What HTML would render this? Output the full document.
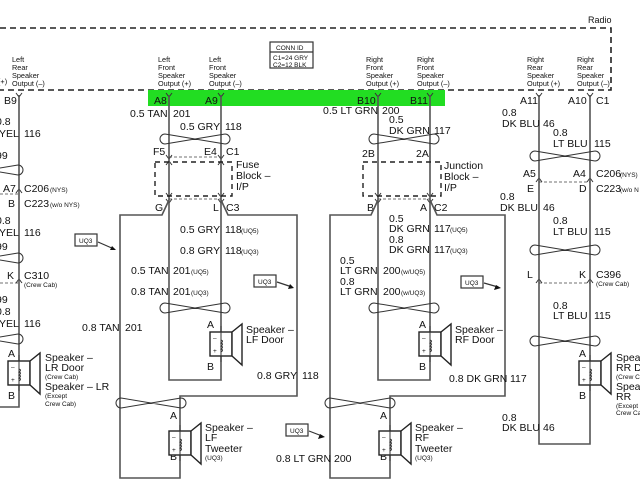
<!DOCTYPE html>
<html><head><meta charset="utf-8"><style>
html,body{margin:0;padding:0;background:#fff;width:640px;height:480px;overflow:hidden}
svg{display:block;font-family:"Liberation Sans",Arial,sans-serif}
.w{stroke:#555;stroke-width:1.6;fill:none}
.b{stroke:#333;stroke-width:1.2;fill:none}
.d{stroke:#222;stroke-width:1.6;fill:none;stroke-dasharray:6 4}
.dt{stroke:#444;stroke-width:0.8;fill:none;stroke-dasharray:3 2}
.c{stroke:#333;stroke-width:1;fill:none}
text{fill:#111;font-size:10.5px}
.s{font-size:6.5px}
.h{font-size:7.3px}
</style></head><body>
<svg width="640" height="480" viewBox="0 0 640 480" xmlns="http://www.w3.org/2000/svg">
<defs>
<g id="tw"><path d="M0,-5 L60,5 M0,5 L60,-5 M0,-5 A5,5 0 0 0 0,5 M60,-5 A5,5 0 0 1 60,5" stroke="#333" stroke-width="1" fill="none"/></g>
<g id="spk"><rect x="-11" y="0" width="22" height="24" stroke="#222" stroke-width="1.4" fill="#fff"/>
<polygon points="11,0 21,-8 21,33 11,24" stroke="#222" stroke-width="1.4" fill="#fff"/>
<path d="M0,-6 V30 M0,8 q3,1 0,3 q3,1 0,3 q3,1 0,3 q3,1 0,3" stroke="#333" stroke-width="1" fill="none"/>
<text x="-8" y="8" class="s">–</text><text x="-8" y="21" class="s">+</text></g>
<path id="yv" d="M-3,-3 L0,1 L3,-3" stroke="#333" stroke-width="1" fill="none"/>
<path id="up" d="M-3,3 L0,-1 L3,3" stroke="#333" stroke-width="1" fill="none"/>
</defs>
<!-- Radio box -->
<text x="588" y="23" style="font-size:9px">Radio</text>
<path class="d" d="M0,28 H611 V90 H0"/>
<rect x="148" y="90" width="297" height="16" fill="#22dd22"/>
<!-- conn id -->
<rect x="270" y="42" width="43" height="26" class="b"/>
<line x1="270" y1="52" x2="313" y2="52" class="b"/>
<text x="276" y="50" class="s">CONN ID</text>
<text x="273" y="60" class="s">C1=24 GRY</text>
<text x="273" y="67" class="s">C2=12 BLK</text>
<!-- header labels -->
<text x="-2" y="84" class="h">(+)</text>
<text x="12" y="62" class="h">Left</text><text x="12" y="70" class="h">Rear</text><text x="12" y="78" class="h">Speaker</text><text x="12" y="86" class="h">Output (–)</text>
<text x="158" y="62" class="h">Left</text><text x="158" y="70" class="h">Front</text><text x="158" y="78" class="h">Speaker</text><text x="158" y="86" class="h">Output (+)</text>
<text x="209" y="62" class="h">Left</text><text x="209" y="70" class="h">Front</text><text x="209" y="78" class="h">Speaker</text><text x="209" y="86" class="h">Output (–)</text>
<text x="366" y="62" class="h">Right</text><text x="366" y="70" class="h">Front</text><text x="366" y="78" class="h">Speaker</text><text x="366" y="86" class="h">Output (+)</text>
<text x="417" y="62" class="h">Right</text><text x="417" y="70" class="h">Front</text><text x="417" y="78" class="h">Speaker</text><text x="417" y="86" class="h">Output (–)</text>
<text x="527" y="62" class="h">Right</text><text x="527" y="70" class="h">Rear</text><text x="527" y="78" class="h">Speaker</text><text x="527" y="86" class="h">Output (+)</text>
<text x="577" y="62" class="h">Right</text><text x="577" y="70" class="h">Rear</text><text x="577" y="78" class="h">Speaker</text><text x="577" y="86" class="h">Output (–)</text>
<!-- connector marks -->
<use href="#yv" x="19" y="96"/><use href="#yv" x="169" y="96"/><use href="#yv" x="221" y="96"/>
<use href="#yv" x="378" y="96"/><use href="#yv" x="430" y="96"/><use href="#yv" x="539" y="96"/><use href="#yv" x="590" y="96"/>
<use href="#yv" x="169" y="158"/><use href="#yv" x="221" y="158"/><use href="#up" x="169" y="162"/><use href="#up" x="221" y="162"/>
<use href="#yv" x="169" y="196"/><use href="#yv" x="221" y="196"/><use href="#yv" x="169" y="202"/><use href="#yv" x="221" y="202"/>
<use href="#yv" x="378" y="196"/><use href="#yv" x="430" y="196"/><use href="#yv" x="378" y="202"/><use href="#yv" x="430" y="202"/>
<use href="#up" x="19" y="190"/><use href="#up" x="19" y="280"/>
<use href="#up" x="539" y="179"/><use href="#up" x="590" y="179"/><use href="#up" x="539" y="280"/><use href="#up" x="590" y="280"/>
<!-- LEFT column x=19 -->
<path class="w" d="M19,95 V407 H0"/>
<use href="#tw" x="-42" y="170"/><use href="#tw" x="-42" y="258"/><use href="#tw" x="-42" y="339"/>
<line x1="0" y1="194" x2="19" y2="194" class="dt"/><line x1="0" y1="283" x2="19" y2="283" class="dt"/>
<text x="4" y="104">B9</text>
<text x="-4" y="125">0.8</text><text x="-1" y="137">YEL</text><text x="24" y="137">116</text>
<text x="-4" y="159">99</text>
<text x="3" y="192">A7</text><text x="24" y="192">C206</text><text x="50" y="192" class="s">(NYS)</text>
<text x="8" y="207">B</text><text x="24" y="207">C223</text><text x="50" y="207" class="s">(w/o NYS)</text>
<text x="-4" y="224">0.8</text><text x="-1" y="236">YEL</text><text x="24" y="236">116</text>
<text x="-4" y="250">99</text>
<text x="7" y="279">K</text><text x="24" y="279">C310</text><text x="24" y="287" class="s">(Crew Cab)</text>
<text x="-4" y="303">99</text><text x="-4" y="315">0.8</text><text x="-1" y="327">YEL</text><text x="24" y="327">116</text>
<text x="8" y="357">A</text><text x="8" y="399">B</text>
<use href="#spk" x="19" y="361"/>
<text x="45" y="361">Speaker –</text><text x="45" y="371">LR Door</text><text x="45" y="379" class="s">(Crew Cab)</text>
<text x="45" y="390">Speaker – LR</text><text x="45" y="398" class="s">(Except</text><text x="45" y="406" class="s">Crew Cab)</text>
<!-- UQ3 box left -->
<rect x="75" y="234" width="22" height="12" class="b"/><text x="79" y="243" class="s">UQ3</text>
<path d="M98,242 L114,249" class="b"/><polygon points="116,250 110,250 112,246" fill="#111"/>
<!-- LF section -->
<path class="w" d="M169,95 V380 H221 V95"/>
<use href="#tw" x="165" y="139"/><use href="#tw" x="165" y="308"/>
<line x1="169" y1="157" x2="221" y2="157" class="dt"/><line x1="169" y1="199" x2="221" y2="199" class="dt"/>
<rect x="155" y="162" width="77" height="34" class="d" style="stroke-width:1.4;stroke-dasharray:5 4"/>
<text x="154" y="104">A8</text><text x="205" y="104">A9</text>
<text x="130" y="117">0.5 TAN</text><text x="173" y="117">201</text>
<text x="180" y="130">0.5 GRY</text><text x="225" y="130">118</text>
<text x="153" y="155">F5</text><text x="204" y="155">E4</text><text x="226" y="155">C1</text>
<text x="236" y="168">Fuse</text><text x="236" y="179">Block –</text><text x="236" y="190">I/P</text>
<text x="155" y="211">G</text><text x="213" y="211">L</text><text x="226" y="211">C3</text>
<path class="w" d="M169,200 L162,215 H120 V478 H180 V396 H297 V215 H228 L221,200"/>
<text x="180" y="233">0.5 GRY</text><text x="225" y="233">118</text><text x="241" y="233" class="s">(UQ5)</text>
<text x="180" y="254">0.8 GRY</text><text x="225" y="254">118</text><text x="241" y="254" class="s">(UQ3)</text>
<text x="131" y="274">0.5 TAN</text><text x="173" y="274">201</text><text x="191" y="274" class="s">(UQ5)</text>
<text x="131" y="295">0.8 TAN</text><text x="173" y="295">201</text><text x="191" y="295" class="s">(UQ3)</text>
<text x="82" y="331">0.8 TAN</text><text x="125" y="331">201</text>
<rect x="254" y="275" width="22" height="12" class="b"/><text x="258" y="284" class="s">UQ3</text>
<path d="M277,282 L292,287" class="b"/><polygon points="294,288 288,289 290,284" fill="#111"/>
<text x="207" y="328">A</text><text x="207" y="370">B</text>
<use href="#spk" x="221" y="332"/>
<text x="246" y="333">Speaker –</text><text x="246" y="343">LF Door</text>
<text x="257" y="379">0.8 GRY</text><text x="302" y="379">118</text>
<use href="#tw" x="121" y="403"/>
<text x="170" y="419">A</text><text x="170" y="460">B</text>
<use href="#spk" x="180" y="431"/>
<text x="205" y="431">Speaker –</text><text x="205" y="441">LF</text><text x="205" y="452">Tweeter</text><text x="205" y="460" class="s">(UQ3)</text>
<!-- RF section -->
<path class="w" d="M378,95 V380 H430 V95"/>
<use href="#tw" x="374" y="139"/><use href="#tw" x="374" y="308"/>
<line x1="378" y1="199" x2="430" y2="199" class="dt"/>
<rect x="363" y="162" width="78" height="34" class="d" style="stroke-width:1.4;stroke-dasharray:5 4"/>
<text x="357" y="104">B10</text><text x="410" y="104">B11</text>
<text x="323" y="114">0.5 LT GRN</text><text x="382" y="114">200</text>
<text x="389" y="123">0.5</text><text x="389" y="134">DK GRN</text><text x="434" y="134">117</text>
<text x="362" y="157">2B</text><text x="416" y="157">2A</text>
<text x="444" y="169">Junction</text><text x="444" y="180">Block –</text><text x="444" y="191">I/P</text>
<text x="367" y="211">B</text><text x="420" y="211">A</text><text x="434" y="211">C2</text>
<path class="w" d="M378,200 L371,215 H330 V478 H390 V396 H505 V215 H437 L430,200"/>
<text x="389" y="222">0.5</text><text x="389" y="232">DK GRN</text><text x="434" y="232">117</text><text x="450" y="232" class="s">(UQ5)</text>
<text x="389" y="243">0.8</text><text x="389" y="253">DK GRN</text><text x="434" y="253">117</text><text x="450" y="253" class="s">(UQ3)</text>
<text x="340" y="264">0.5</text><text x="340" y="274">LT GRN</text><text x="383" y="274">200</text><text x="401" y="274" class="s">(w/UQ5)</text>
<text x="340" y="285">0.8</text><text x="340" y="295">LT GRN</text><text x="383" y="295">200</text><text x="401" y="295" class="s">(w/UQ3)</text>
<rect x="461" y="276" width="22" height="12" class="b"/><text x="465" y="285" class="s">UQ3</text>
<path d="M484,283 L498,287" class="b"/><polygon points="501,288 494,290 496,285" fill="#111"/>
<text x="419" y="328">A</text><text x="419" y="370">B</text>
<use href="#spk" x="430" y="332"/>
<text x="455" y="333">Speaker –</text><text x="455" y="343">RF Door</text>
<text x="449" y="382">0.8 DK GRN</text><text x="510" y="382">117</text>
<use href="#tw" x="330" y="403"/>
<rect x="286" y="424" width="22" height="12" class="b"/><text x="290" y="433" class="s">UQ3</text>
<path d="M309,431 L322,436" class="b"/><polygon points="325,437 318,439 320,434" fill="#111"/>
<text x="276" y="462">0.8 LT GRN</text><text x="334" y="462">200</text>
<text x="380" y="419">A</text><text x="380" y="460">B</text>
<use href="#spk" x="390" y="431"/>
<text x="415" y="431">Speaker –</text><text x="415" y="441">RF</text><text x="415" y="452">Tweeter</text><text x="415" y="460" class="s">(UQ3)</text>
<!-- Rear right -->
<path class="w" d="M539,95 V444 H590 V95"/>
<use href="#tw" x="535" y="156"/><use href="#tw" x="535" y="250"/><use href="#tw" x="535" y="341"/>
<line x1="539" y1="182" x2="590" y2="182" class="dt"/><line x1="539" y1="283" x2="590" y2="283" class="dt"/>
<text x="520" y="104">A11</text><text x="568" y="104">A10</text><text x="596" y="104">C1</text>
<text x="502" y="116">0.8</text><text x="502" y="127">DK BLU</text><text x="543" y="127">46</text>
<text x="553" y="136">0.8</text><text x="553" y="147">LT BLU</text><text x="594" y="147">115</text>
<text x="523" y="177">A5</text><text x="573" y="177">A4</text><text x="596" y="177">C206</text><text x="620" y="177" class="s">(NYS)</text>
<text x="527" y="192">E</text><text x="579" y="192">D</text><text x="596" y="192">C223</text><text x="620" y="192" class="s">(w/o N</text>
<text x="500" y="200">0.8</text><text x="500" y="211">DK BLU</text><text x="543" y="211">46</text>
<text x="553" y="224">0.8</text><text x="553" y="235">LT BLU</text><text x="594" y="235">115</text>
<text x="527" y="278">L</text><text x="579" y="278">K</text><text x="596" y="278">C396</text><text x="596" y="286" class="s">(Crew Cab)</text>
<text x="553" y="309">0.8</text><text x="553" y="319">LT BLU</text><text x="594" y="319">115</text>
<text x="579" y="357">A</text><text x="579" y="399">B</text>
<use href="#spk" x="590" y="361"/>
<text x="616" y="361">Speaker –</text><text x="616" y="371">RR Door</text><text x="616" y="379" class="s">(Crew Cab)</text>
<text x="616" y="390">Speaker –</text><text x="616" y="400">RR</text><text x="616" y="408" class="s">(Except</text><text x="616" y="415" class="s">Crew Cab)</text>
<text x="502" y="421">0.8</text><text x="502" y="431">DK BLU</text><text x="543" y="431">46</text>
</svg>
</body></html>
